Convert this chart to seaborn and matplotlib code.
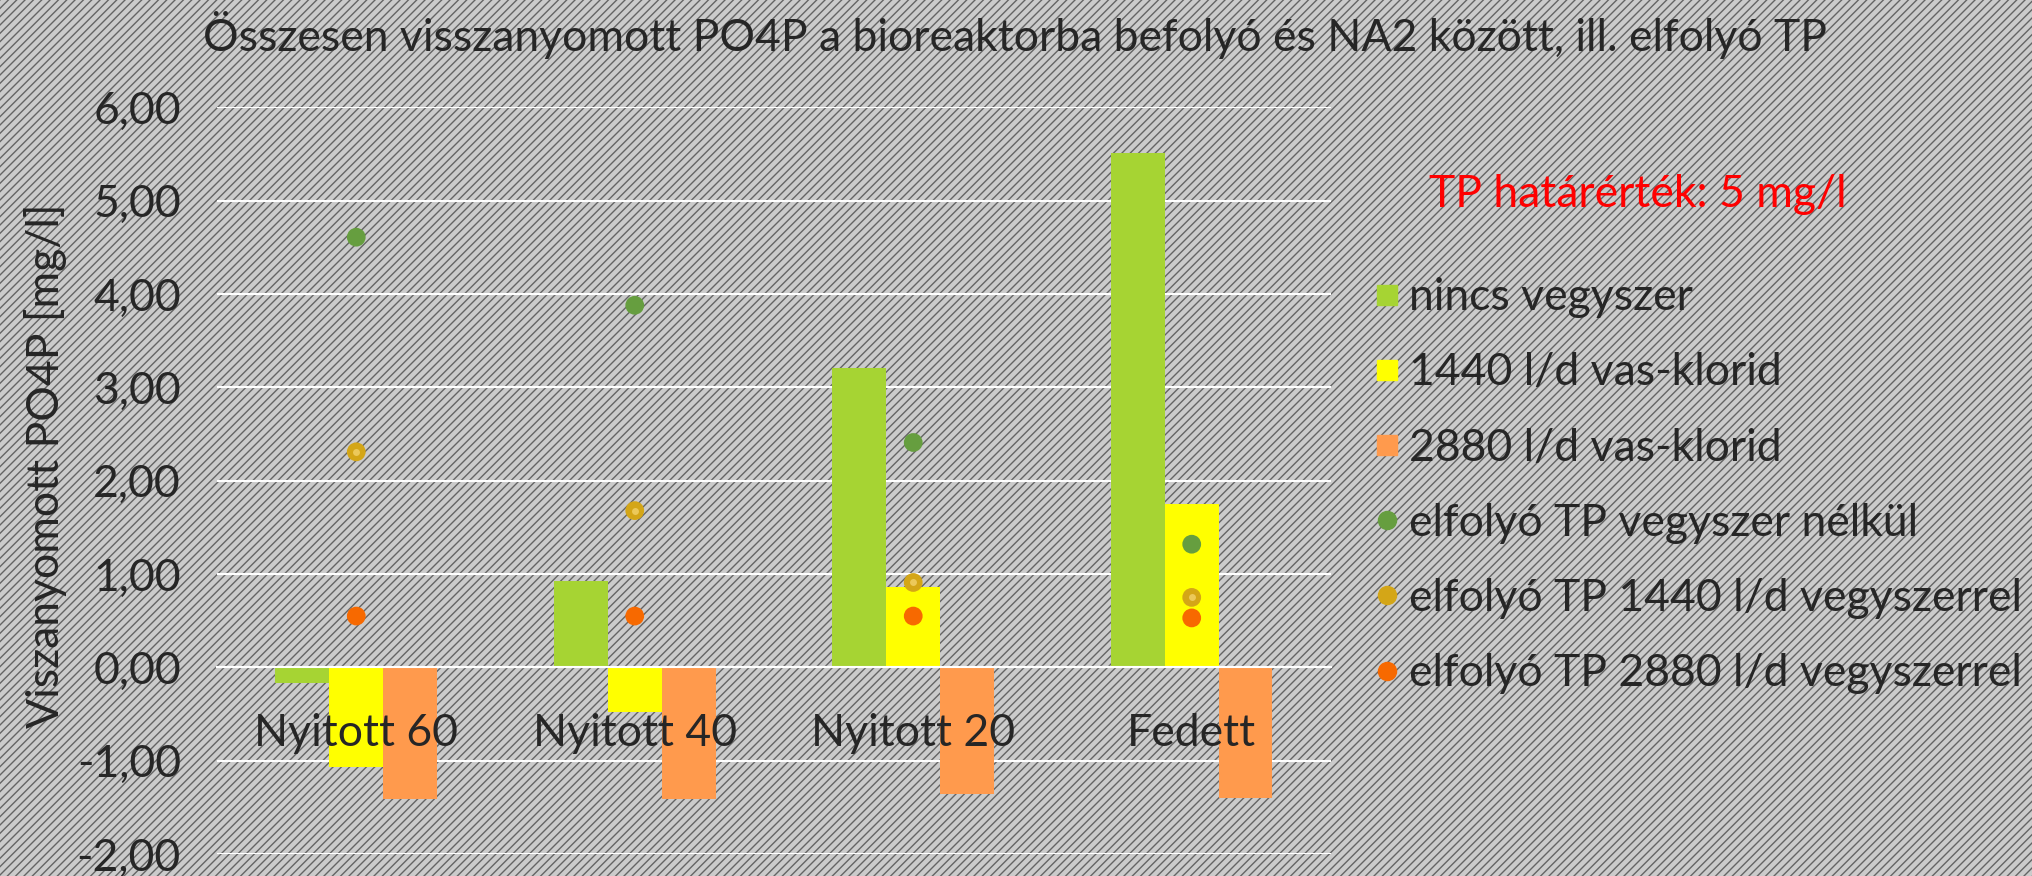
import pandas as pd
import matplotlib
matplotlib.use("Agg")
import matplotlib.pyplot as plt
import seaborn as sns
from matplotlib.lines import Line2D
from matplotlib.ticker import FixedLocator, FuncFormatter

# Adatok (leolvasva az eredeti diagramról)
kategoriak = ["Nyitott 60", "Nyitott 40", "Nyitott 20", "Fedett"]
nincs_vegyszer = [-0.17, 0.93, 3.21, 5.51]
vas_1440 = [-1.07, -0.48, 0.86, 1.75]
vas_2880 = [-1.41, -1.41, -1.36, -1.40]
tp_nelkul = [4.61, 3.88, 2.41, 1.32]
tp_1440 = [2.31, 1.68, 0.91, 0.75]
tp_2880 = [0.55, 0.55, 0.55, 0.53]

oszlop_nevek = ["nincs vegyszer", "1440 l/d vas-klorid", "2880 l/d vas-klorid"]
pont_nevek = ["elfolyó TP vegyszer nélkül", "elfolyó TP 1440 l/d vegyszerrel",
              "elfolyó TP 2880 l/d vegyszerrel"]
oszlop_szinek = ["#a6d433", "#ffff00", "#ff9a4d"]
pont_szinek = ["#669e3f", "#d4a617", "#f76900"]

oszlopok = pd.DataFrame({
    "kat": kategoriak * 3,
    "sorozat": [n for n in oszlop_nevek for _ in kategoriak],
    "ertek": nincs_vegyszer + vas_1440 + vas_2880,
})
pontok = pd.DataFrame({
    "kat": kategoriak * 3,
    "sorozat": [n for n in pont_nevek for _ in kategoriak],
    "ertek": tp_nelkul + tp_1440 + tp_2880,
})

sns.set_style("white")
plt.rcParams["font.family"] = ["Lato", "DejaVu Sans"]
plt.rcParams["hatch.linewidth"] = 1.0
betu = 32

fig = plt.figure(figsize=(20.32, 8.76), dpi=100)
# csíkos szürke háttér
fig.patch.set_facecolor("#cbcbcb")
fig.patch.set_edgecolor("#646464")
fig.patch.set_linewidth(0)
fig.patch.set_hatch("////")

ax = fig.add_axes([0.1068, 0.0251, 0.5482, 0.8522])
ax.patch.set_visible(False)

sns.barplot(data=oszlopok, x="kat", y="ertek", hue="sorozat", order=kategoriak,
            hue_order=oszlop_nevek, palette=oszlop_szinek, width=0.58,
            saturation=1, errorbar=None, legend=False, linewidth=0, ax=ax)
sns.stripplot(data=pontok, x="kat", y="ertek", hue="sorozat", order=kategoriak,
              hue_order=pont_nevek, palette=pont_szinek, jitter=False, dodge=False,
              size=13.5, linewidth=0, legend=False, ax=ax, zorder=4)
# a sárga pontok világosabb közepe
sns.stripplot(x=kategoriak, y=tp_1440, order=kategoriak, color="#ecc95a",
              jitter=False, size=5, linewidth=0, ax=ax, zorder=5)

ax.set_xlim(-0.5, 3.5)
ax.set_ylim(-2, 6)
ax.set_axisbelow(True)
ax.xaxis.set_zorder(6)
ax.yaxis.set_major_locator(FixedLocator(range(-2, 7)))
ax.yaxis.set_major_formatter(FuncFormatter(lambda v, p: f"{v:.2f}".replace(".", ",")))
ax.grid(axis="y", color="white", linewidth=1.5)

for s in ["top", "right", "left"]:
    ax.spines[s].set_visible(False)
ax.spines["bottom"].set_position(("data", 0))
ax.spines["bottom"].set_color("white")
ax.spines["bottom"].set_linewidth(1.5)

ax.set_xticks(range(len(kategoriak)))
ax.set_xticklabels(kategoriak)
ax.set_xticks([-0.5, 0.5, 1.5, 2.5, 3.5], minor=True)
ax.tick_params(axis="x", which="major", length=0, pad=33, labelsize=betu)
ax.tick_params(axis="x", which="minor", length=11, width=1.5, color="white")
ax.tick_params(axis="y", length=0, pad=26, labelsize=betu)

ax.set_xlabel("")
ax.set_ylabel("Viszanyomott PO4P [mg/l]", fontsize=betu)
ax.yaxis.set_label_coords(-0.135, 0.52)

fig.text(0.4995, 0.96, "Összesen visszanyomott PO4P a bioreaktorba befolyó és NA2 között, ill. elfolyó TP",
         ha="center", va="center", fontsize=betu)
fig.text(0.806, 0.7785, "TP határérték: 5 mg/l", ha="center", va="center",
         fontsize=betu, color="#ff0000")

kezelok = [Line2D([], [], marker="s", linestyle="", markersize=15, color=c) for c in oszlop_szinek]
kezelok += [Line2D([], [], marker="o", linestyle="", markersize=13, color=c) for c in pont_szinek]
fig.legend(kezelok, oszlop_nevek + pont_nevek, loc="upper left",
           bbox_to_anchor=(0.664, 0.709), frameon=False, fontsize=betu,
           handlelength=0.7, handletextpad=0.15, labelspacing=0.77, borderpad=0)

fig.savefig("out.png", dpi=100)
